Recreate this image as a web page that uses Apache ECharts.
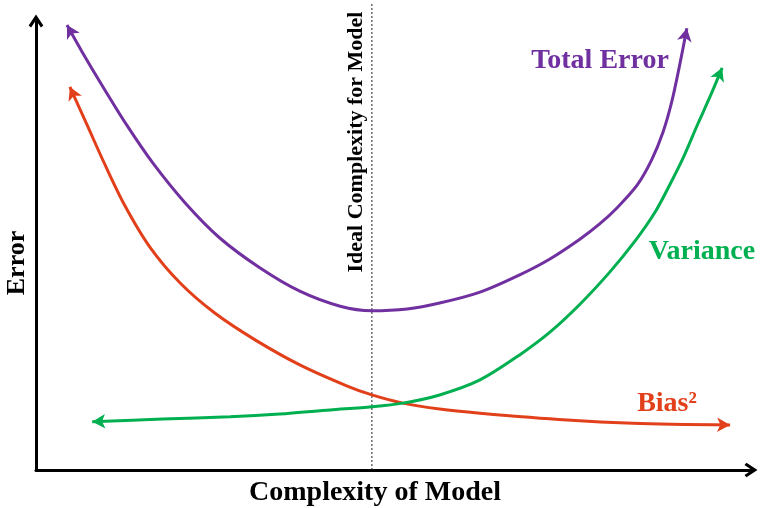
<!DOCTYPE html>
<html>
<head>
<meta charset="utf-8">
<script src="https://cdn.jsdelivr.net/npm/echarts@6/dist/echarts.min.js"></script>
<style>
  html, body { margin: 0; padding: 0; background: #fff; }
  #chart { width: 768px; height: 508px; }
</style>
</head>
<body>
<div id="chart"></div>
<script>
// curves, [complexity, error] in 0..100 units
const totalError = [
  [4.3, 97.8], [6.4, 91.9], [9.3, 84.2], [12.6, 75.8], [16.2, 67.5],
  [20.7, 58.7], [25.5, 51.0], [31.1, 44.4], [36.6, 39.3], [42.2, 36.0],
  [46.6, 35.0], [51.5, 35.4], [56.0, 36.7], [61.6, 39.1], [67.1, 42.9],
  [71.3, 46.4], [75.5, 50.8], [78.2, 54.1], [80.6, 57.6], [83.4, 62.6],
  [85.4, 68.1], [87.0, 74.3], [88.2, 80.9], [89.3, 89.0], [90.3, 97.1]
]
const bias = [
  [4.7, 84.2], [7.1, 75.8], [9.6, 67.0], [12.3, 58.2], [15.8, 49.0],
  [20.0, 41.1], [24.8, 34.5], [30.4, 28.6], [36.6, 23.1], [43.1, 18.5],
  [46.6, 16.5], [50.9, 14.7], [56.0, 13.4], [61.6, 12.5], [73.7, 11.0],
  [82.8, 10.3], [96.3, 9.9]
]
const variance = [
  [7.8, 10.6], [17.6, 11.2], [26.9, 11.7], [33.8, 12.3], [40.8, 13.2],
  [46.6, 13.9], [50.9, 14.7], [56.0, 16.5], [61.6, 19.8], [67.1, 25.3],
  [71.3, 30.3], [75.5, 36.5], [79.6, 43.5], [83.1, 50.3], [85.9, 56.7],
  [87.9, 62.6], [89.9, 69.0], [91.8, 76.0], [93.5, 82.0], [95.2, 88.4]
]
const idealX = 46.6
const idealTop = 102.6

const colors = { total: '#7030A0', bias: '#E2401A', variance: '#00B050' }
const serif = '"Liberation Serif", "DejaVu Serif", serif'
const chevron = 'path://M0,9 L6,0 L12,9 L10,10.6 L6,4.6 L2,10.6 Z'

const chart = echarts.init(document.getElementById('chart'))

function curve(name, data, color) {
  return {
    name: name,
    type: 'line',
    data: data.map(p => ({ value: p })),
    smooth: 0.3,
    symbol: 'none',
    showSymbol: true,
    silent: true,
    lineStyle: { color: color, width: 3 },
    itemStyle: { color: color }
  }
}

const option = {
  animation: false,
  grid: { left: 36, right: 17, top: 21, bottom: 38, outerBoundsMode: 'none', containLabel: false },
  xAxis: {
    type: 'value', min: 0, max: 99.2,
    name: 'Complexity of Model',
    nameLocation: 'middle',
    nameGap: 9,
    nameTextStyle: { fontFamily: serif, fontWeight: 'bold', fontSize: 28, color: '#000', padding: [0, 37, 0, 0] },
    axisLine: { lineStyle: { color: '#000', width: 3 }, symbol: ['none', chevron], symbolSize: [16, 13] },
    axisTick: { show: false }, axisLabel: { show: false }, splitLine: { show: false }
  },
  yAxis: {
    type: 'value', min: 0, max: 98.7,
    name: 'Error',
    nameLocation: 'middle',
    nameRotate: 90,
    nameGap: 6,
    nameTextStyle: { fontFamily: serif, fontWeight: 'bold', fontSize: 26, color: '#000', padding: [0, 35, 0, 0] },
    axisLine: { lineStyle: { color: '#000', width: 3 }, symbol: ['none', chevron], symbolSize: [16, 13] },
    axisTick: { show: false }, axisLabel: { show: false }, splitLine: { show: false }
  },
  series: [
    {
      name: 'ideal',
      type: 'line',
      data: [[idealX, 0], [idealX, idealTop]],
      symbol: 'none',
      clip: false,
      silent: true,
      lineStyle: { color: '#222', width: 1, type: [2, 2] }
    },
    curve('Total Error', totalError, colors.total),
    curve('Bias²', bias, colors.bias),
    curve('Variance', variance, colors.variance)
  ],
  graphic: [
    { type: 'text', x: 356, y: 142, rotation: Math.PI / 2,
      style: { text: 'Ideal Complexity for Model', font: 'bold 22px ' + serif, fill: '#000', align: 'center', verticalAlign: 'middle' } },
    { type: 'text', x: 600, y: 61,
      style: { text: 'Total Error', font: 'bold 28px ' + serif, fill: colors.total, align: 'center', verticalAlign: 'middle' } },
    { type: 'text', x: 702, y: 252,
      style: { text: 'Variance', font: 'bold 28px ' + serif, fill: colors.variance, align: 'center', verticalAlign: 'middle' } },
    { type: 'text', x: 667, y: 404,
      style: { text: 'Bias²', font: 'bold 28px ' + serif, fill: colors.bias, align: 'center', verticalAlign: 'middle' } }
  ]
}

chart.setOption(option)

// put arrow heads on both ends of each curve, turned along the curve
function arrowAngle(from, to) {
  const a = chart.convertToPixel({ gridIndex: 0 }, from)
  const b = chart.convertToPixel({ gridIndex: 0 }, to)
  return Math.atan2(-(b[0] - a[0]), -(b[1] - a[1])) * 180 / Math.PI
}
function withArrows(data) {
  const n = data.length
  return data.map((p, i) => {
    if (i === 0) return { value: p, symbol: 'arrow', symbolSize: [11, 13], symbolRotate: arrowAngle(data[1], data[0]) }
    if (i === n - 1) return { value: p, symbol: 'arrow', symbolSize: [11, 13], symbolRotate: arrowAngle(data[n - 2], data[n - 1]) }
    return { value: p }
  })
}
chart.setOption({
  series: [
    {},
    { data: withArrows(totalError) },
    { data: withArrows(bias) },
    { data: withArrows(variance) }
  ]
})
</script>
</body>
</html>
